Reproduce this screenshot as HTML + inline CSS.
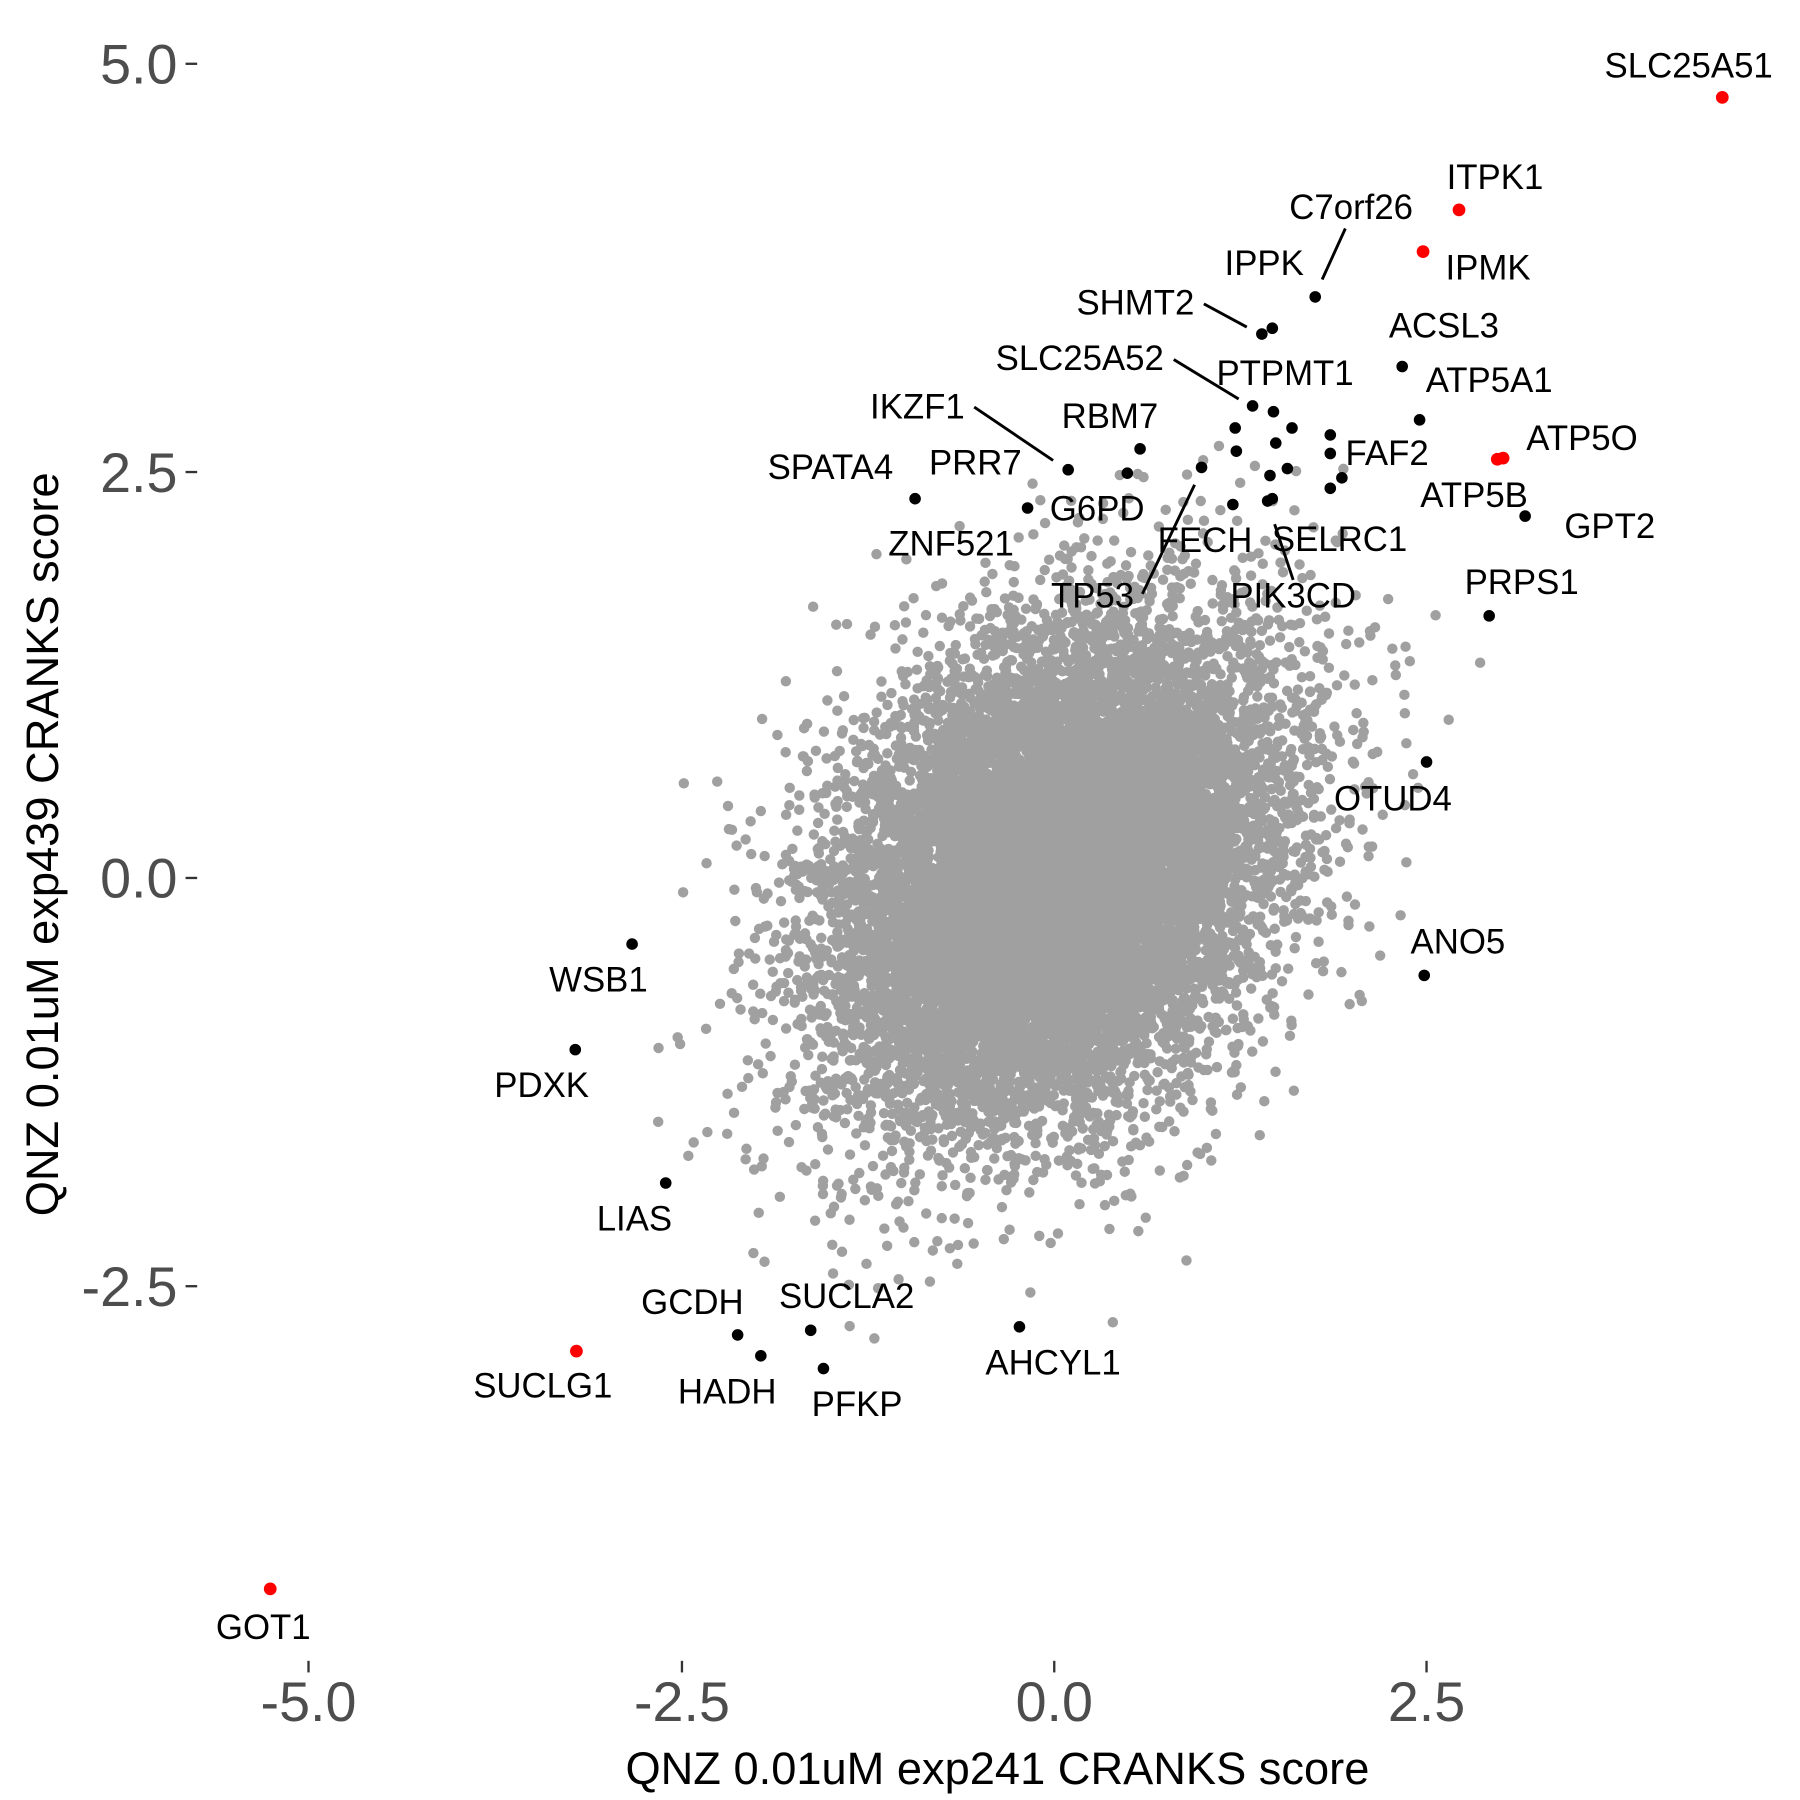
<!DOCTYPE html>
<html><head><meta charset="utf-8"><style>html,body{margin:0;padding:0;background:#fff}svg{display:block}</style></head>
<body>
<svg id="s" width="1800" height="1800" viewBox="0 0 1552 1552" xmlns="http://www.w3.org/2000/svg" font-family="Liberation Sans, Arial, sans-serif">
<rect width="1552" height="1552" fill="#fff"/>
<g id="cloud" fill="#a0a0a0"></g>
<g stroke="#000" stroke-width="2.5">
<line x1="1160" y1="197" x2="1140" y2="241"/>
<line x1="1038" y1="262" x2="1075" y2="282"/>
<line x1="1012" y1="310" x2="1068" y2="344"/>
<line x1="840" y1="351" x2="908" y2="397"/>
<line x1="985" y1="512" x2="1030" y2="418"/>
<line x1="1099" y1="452" x2="1115" y2="500"/>
</g>
<g fill="#000">
<circle cx="789" cy="430" r="5"/><circle cx="886" cy="438" r="5"/><circle cx="921" cy="405" r="5"/><circle cx="983" cy="387" r="5"/><circle cx="972" cy="408" r="5"/><circle cx="1036" cy="403" r="5"/><circle cx="1063" cy="435" r="5"/><circle cx="1065" cy="369" r="5"/><circle cx="1066" cy="389" r="5"/><circle cx="1080" cy="350" r="5"/><circle cx="1088" cy="288" r="5"/><circle cx="1097" cy="283" r="5"/><circle cx="1098" cy="355" r="5"/><circle cx="1114" cy="369" r="5"/><circle cx="1100" cy="382" r="5"/><circle cx="1110" cy="404" r="5"/><circle cx="1095" cy="410" r="5"/><circle cx="1093" cy="432" r="5"/><circle cx="1097" cy="430" r="5"/><circle cx="1134" cy="256" r="5"/><circle cx="1147" cy="375" r="5"/><circle cx="1147" cy="391" r="5"/><circle cx="1157" cy="412" r="5"/><circle cx="1147" cy="421" r="5"/><circle cx="1209" cy="316" r="5"/><circle cx="1224" cy="362" r="5"/><circle cx="1315" cy="445" r="5"/><circle cx="1284" cy="531" r="5"/><circle cx="1230" cy="657" r="5"/><circle cx="1228" cy="841" r="5"/><circle cx="545" cy="814" r="5"/><circle cx="496" cy="905" r="5"/><circle cx="574" cy="1020" r="5"/><circle cx="636" cy="1151" r="5"/><circle cx="656" cy="1169" r="5"/><circle cx="699" cy="1147" r="5"/><circle cx="710" cy="1180" r="5"/><circle cx="879" cy="1144" r="5"/>
</g>
<g fill="#ff0000">
<circle cx="1485" cy="84" r="5.5"/><circle cx="1258" cy="181" r="5.5"/><circle cx="1227" cy="217" r="5.5"/><circle cx="1291" cy="396" r="5.5"/><circle cx="1296" cy="395" r="5.5"/><circle cx="497" cy="1165" r="5.5"/><circle cx="233" cy="1370" r="5.5"/>
</g>
<g font-size="30" fill="#000" text-anchor="middle">
<text x="1456" y="67">SLC25A51</text><text x="1289" y="163">ITPK1</text><text x="1165" y="189">C7orf26</text><text x="1090" y="237">IPPK</text><text x="1283" y="241">IPMK</text><text x="979" y="271">SHMT2</text><text x="1245" y="291">ACSL3</text><text x="931" y="319">SLC25A52</text><text x="1108" y="332">PTPMT1</text><text x="1284" y="338">ATP5A1</text><text x="791" y="361">IKZF1</text><text x="957" y="369">RBM7</text><text x="1364" y="388">ATP5O</text><text x="1196" y="401">FAF2</text><text x="716" y="413">SPATA4</text><text x="841" y="409">PRR7</text><text x="1271" y="437">ATP5B</text><text x="946" y="449">G6PD</text><text x="1388" y="464">GPT2</text><text x="1039" y="476">FECH</text><text x="1155" y="475">SELRC1</text><text x="820" y="479">ZNF521</text><text x="942" y="524">TP53</text><text x="1115" y="524">PIK3CD</text><text x="1312" y="512">PRPS1</text><text x="1201" y="699">OTUD4</text><text x="1257" y="822">ANO5</text><text x="516" y="855">WSB1</text><text x="467" y="946">PDXK</text><text x="547" y="1061">LIAS</text><text x="597" y="1133">GCDH</text><text x="730" y="1128">SUCLA2</text><text x="468" y="1205">SUCLG1</text><text x="627" y="1210">HADH</text><text x="739" y="1221">PFKP</text><text x="908" y="1185">AHCYL1</text><text x="227" y="1413">GOT1</text>
</g>
<g stroke="#333" stroke-width="2">
<line x1="160" y1="55" x2="170" y2="55"/><line x1="160" y1="407" x2="170" y2="407"/><line x1="160" y1="757" x2="170" y2="757"/><line x1="160" y1="1109" x2="170" y2="1109"/>
<line x1="266" y1="1432" x2="266" y2="1442"/><line x1="588" y1="1432" x2="588" y2="1442"/><line x1="909" y1="1432" x2="909" y2="1442"/><line x1="1230" y1="1432" x2="1230" y2="1442"/>
</g>
<g font-size="48" fill="#4d4d4d" text-anchor="end">
<text x="153" y="72">5.0</text><text x="153" y="424">2.5</text><text x="153" y="774">0.0</text><text x="153" y="1126">-2.5</text>
</g>
<g font-size="48" fill="#4d4d4d" text-anchor="middle">
<text x="266" y="1484">-5.0</text><text x="588" y="1484">-2.5</text><text x="909" y="1484">0.0</text><text x="1230" y="1484">2.5</text>
</g>
<text x="860" y="1538" font-size="39" text-anchor="middle" fill="#000">QNZ 0.01uM exp241 CRANKS score</text>
<text transform="translate(50,728) rotate(-90)" font-size="39" text-anchor="middle" fill="#000">QNZ 0.01uM exp439 CRANKS score</text>
</svg>
<script>
(function(){
var s=123456789;function r(){s^=s<<13;s>>>=0;s^=s>>>17;s^=s<<5;s>>>=0;return s/4294967296;}
function g(){var u=r()||1e-9,v=r();return Math.sqrt(-2*Math.log(u))*Math.cos(2*Math.PI*v);}
var out=[];
for(var i=0;i<14000;i++){
 var x=g()*0.74, y=0.3*x+g()*0.72+0.02;
 var px=909+x*128.5, py=757-y*140.4;
 out.push('<circle cx="'+px.toFixed(1)+'" cy="'+py.toFixed(1)+'" r="4.5"/>');
}
document.getElementById('cloud').innerHTML=out.join('');
})();
</script>
</body></html>
